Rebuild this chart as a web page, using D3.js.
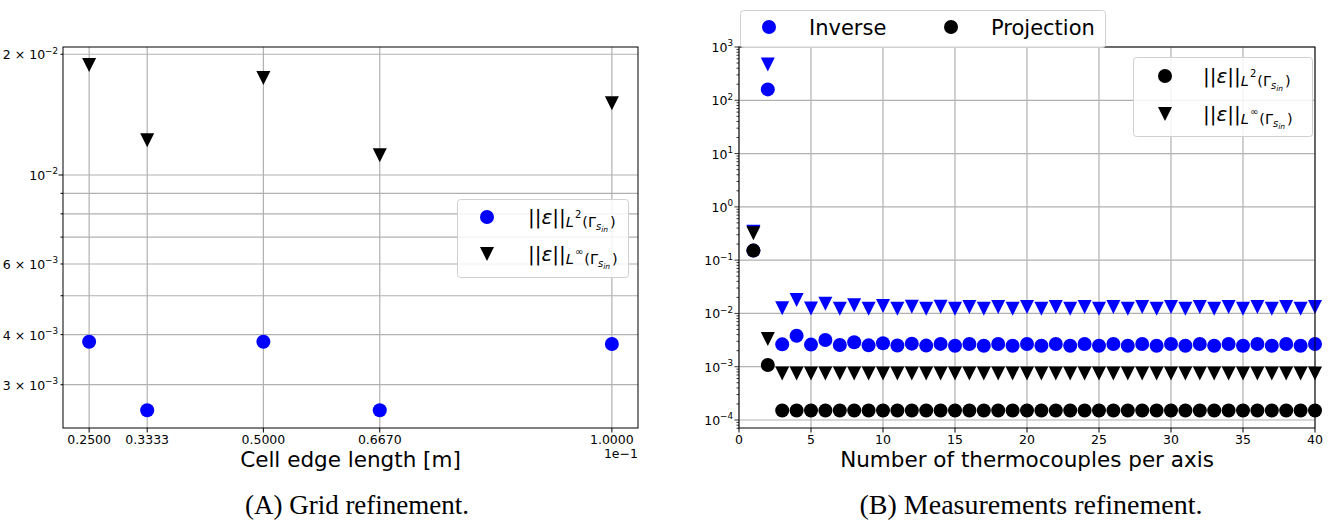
<!DOCTYPE html>
<html><head><meta charset="utf-8">
<script src="https://cdn.jsdelivr.net/npm/d3@7"></script>
<style>body{margin:0;background:#fff}svg{display:block;font-family:"DejaVu Sans",sans-serif}</style>
</head><body><svg id="c" width="1333" height="521"></svg>
<script>
// ---------- Panel A data ----------
const gridX = [0.25, 0.3333, 0.5, 0.667, 1.0];
const gridXLabels = ["0.2500", "0.3333", "0.5000", "0.6670", "1.0000"];
const gridL2 = [3.84e-3, 2.59e-3, 3.84e-3, 2.59e-3, 3.79e-3];
const gridLinf = [1.88e-2, 1.22e-2, 1.745e-2, 1.12e-2, 1.51e-2];
const gridYTicks = [2e-2, 1e-2, 9e-3, 8e-3, 7e-3, 6e-3, 5e-3, 4e-3, 3e-3];
const gridYLabels = [["2 × 10", "−2"], ["10", "−2"], null, null, null, ["6 × 10", "−3"], null, ["4 × 10", "−3"], ["3 × 10", "−3"]];

// ---------- Panel B data ----------
const nTc = [1,2,3,4,5,6,7,8,9,10,11,12,13,14,15,16,17,18,19,20,21,22,23,24,25,26,27,28,29,30,31,32,33,34,35,36,37,38,39,40];
const invL2 = [0.151, 160, 2.63e-3, 3.81e-3, 2.60e-3, 3.17e-3, 2.55e-3, 2.87e-3, 2.52e-3, 2.76e-3,
  2.50e-3, 2.71e-3, 2.49e-3, 2.68e-3, 2.48e-3, 2.67e-3, 2.48e-3, 2.67e-3, 2.48e-3, 2.67e-3,
  2.48e-3, 2.67e-3, 2.48e-3, 2.67e-3, 2.48e-3, 2.67e-3, 2.48e-3, 2.67e-3, 2.48e-3, 2.67e-3,
  2.48e-3, 2.67e-3, 2.48e-3, 2.67e-3, 2.48e-3, 2.67e-3, 2.48e-3, 2.67e-3, 2.48e-3, 2.67e-3];
const invLinf = [0.34, 468, 1.25e-2, 1.78e-2, 1.24e-2, 1.52e-2, 1.23e-2, 1.43e-2, 1.23e-2, 1.38e-2,
  1.22e-2, 1.34e-2, 1.22e-2, 1.33e-2, 1.22e-2, 1.32e-2, 1.22e-2, 1.32e-2, 1.22e-2, 1.32e-2,
  1.22e-2, 1.32e-2, 1.22e-2, 1.32e-2, 1.22e-2, 1.32e-2, 1.22e-2, 1.32e-2, 1.22e-2, 1.32e-2,
  1.22e-2, 1.32e-2, 1.22e-2, 1.32e-2, 1.22e-2, 1.32e-2, 1.22e-2, 1.32e-2, 1.22e-2, 1.32e-2];
const projL2 = [0.151, 1.08e-3, 1.51e-4, 1.51e-4, 1.51e-4, 1.51e-4, 1.51e-4, 1.51e-4, 1.51e-4, 1.51e-4,
  1.51e-4, 1.51e-4, 1.51e-4, 1.51e-4, 1.51e-4, 1.51e-4, 1.51e-4, 1.51e-4, 1.51e-4, 1.51e-4,
  1.51e-4, 1.51e-4, 1.51e-4, 1.51e-4, 1.51e-4, 1.51e-4, 1.51e-4, 1.51e-4, 1.51e-4, 1.51e-4,
  1.51e-4, 1.51e-4, 1.51e-4, 1.51e-4, 1.51e-4, 1.51e-4, 1.51e-4, 1.51e-4, 1.51e-4, 1.51e-4];
const projLinf = [0.32, 3.3e-3, 7.5e-4, 7.5e-4, 7.5e-4, 7.5e-4, 7.5e-4, 7.5e-4, 7.5e-4, 7.5e-4,
  7.5e-4, 7.5e-4, 7.5e-4, 7.5e-4, 7.5e-4, 7.5e-4, 7.5e-4, 7.5e-4, 7.5e-4, 7.5e-4,
  7.5e-4, 7.5e-4, 7.5e-4, 7.5e-4, 7.5e-4, 7.5e-4, 7.5e-4, 7.5e-4, 7.5e-4, 7.5e-4,
  7.5e-4, 7.5e-4, 7.5e-4, 7.5e-4, 7.5e-4, 7.5e-4, 7.5e-4, 7.5e-4, 7.5e-4, 7.5e-4];
const tcXTicks = [0, 5, 10, 15, 20, 25, 30, 35, 40];
const tcYExps = [3, 2, 1, 0, -1, -2, -3, -4];

const BLUE = "#0000ff", BLACK = "#000000", GRID = "#b0b0b0";
const TICKFS = 12.5, LABELFS = 21.5;
const svg = d3.select("#c");
svg.append("rect").attr("width", 1333).attr("height", 521).attr("fill", "#fff");

const tri = "M0,7L-7,-7L7,-7Z";
function circle(g, x, y, col) { g.append("circle").attr("cx", x).attr("cy", y).attr("r", 7).attr("fill", col); }
function triangle(g, x, y, col) { g.append("path").attr("d", tri).attr("transform", `translate(${x},${y})`).attr("fill", col); }

function powLabel(g, x, y, base, exp, size) {
  const t = g.append("text").attr("x", x).attr("y", y).attr("text-anchor", "end")
    .attr("font-size", size).attr("fill", "#000");
  t.append("tspan").text(base);
  t.append("tspan").attr("font-size", size * 0.7).attr("dy", -size * 0.45).text(exp);
}

function normLabel(g, x, y, sup) {
  const t = g.append("text").attr("x", x).attr("y", y).attr("fill", "#000");
  t.append("tspan").attr("font-size", 20).text("||");
  t.append("tspan").attr("font-size", 20).attr("font-style", "italic").text("ε");
  t.append("tspan").attr("font-size", 20).text("||");
  t.append("tspan").attr("font-size", 14.5).attr("font-style", "italic").attr("dy", 3.7).text("L");
  t.append("tspan").attr("font-size", 10).attr("dy", -9.3).attr("dx", 1).text(sup);
  t.append("tspan").attr("font-size", 14.5).attr("dy", 9.3).attr("dx", 1).text("(Γ");
  t.append("tspan").attr("font-size", 10).attr("font-style", "italic").attr("dy", 2.5).text("s");
  t.append("tspan").attr("font-size", 7.5).attr("font-style", "italic").attr("dy", 2).text("in");
  t.append("tspan").attr("font-size", 14.5).attr("dy", -4.5).attr("dx", 2).text(")");
}

function legendBox(g, x0, y0, x1, y1) {
  g.append("rect").attr("x", x0 + 0.5).attr("y", y0 + 0.5).attr("width", x1 - x0).attr("height", y1 - y0)
    .attr("rx", 3).attr("fill", "#fff").attr("fill-opacity", 0.85).attr("stroke", "#d0d0d0").attr("stroke-width", 1);
}

// ================= Panel A =================
{
  const L = 63, R = 638, T = 47, B = 428;
  const x = d3.scaleLinear().domain([0.2125, 1.0375]).range([L, R]);
  const y = d3.scaleLog().domain([2.34e-3, 2.085e-2]).range([B, T]);
  const g = svg.append("g");
  g.selectAll(".gx").data(gridX).join("line").attr("x1", d => x(d)).attr("x2", d => x(d))
    .attr("y1", T).attr("y2", B).attr("stroke", GRID).attr("stroke-width", 1.2);
  g.selectAll(".gy").data(gridYTicks).join("line").attr("x1", L).attr("x2", R)
    .attr("y1", d => y(d)).attr("y2", d => y(d)).attr("stroke", GRID).attr("stroke-width", 1.2);
  gridLinf.forEach((v, i) => triangle(g, x(gridX[i]), y(v), BLACK));
  gridL2.forEach((v, i) => circle(g, x(gridX[i]), y(v), BLUE));
  g.append("rect").attr("x", L).attr("y", T).attr("width", R - L).attr("height", B - T)
    .attr("fill", "none").attr("stroke", "#000").attr("stroke-width", 1);
  gridX.forEach((d, i) => {
    g.append("line").attr("x1", x(d)).attr("x2", x(d)).attr("y1", B).attr("y2", B + 4.5).attr("stroke", "#000");
    g.append("text").attr("x", x(d)).attr("y", B + 16).attr("text-anchor", "middle").attr("font-size", TICKFS).text(gridXLabels[i]);
  });
  g.append("text").attr("x", R).attr("y", B + 30).attr("text-anchor", "end").attr("font-size", TICKFS).text("1e−1");
  gridYTicks.forEach((d, i) => {
    const major = d === 1e-2;
    g.append("line").attr("x1", L).attr("x2", L - (major ? 4.5 : 2.5)).attr("y1", y(d)).attr("y2", y(d)).attr("stroke", "#000");
    if (gridYLabels[i]) powLabel(g, 58, y(d) + 5, gridYLabels[i][0], gridYLabels[i][1], TICKFS);
  });
  g.append("text").attr("x", (L + R) / 2).attr("y", B + 39).attr("text-anchor", "middle").attr("font-size", LABELFS)
    .text("Cell edge length [m]");
  legendBox(g, 457, 199, 628, 277);
  circle(g, 487, 217, BLUE);
  triangle(g, 487, 254, BLACK);
  normLabel(g, 528, 223.5, "2");
  normLabel(g, 528, 260.5, "∞");
  svg.append("text").attr("x", 357).attr("y", 514).attr("text-anchor", "middle")
    .attr("font-family", "Liberation Serif, serif").attr("font-size", 27).text("(A) Grid refinement.");
}

// ================= Panel B =================
{
  const L = 739, R = 1315, T = 47, B = 428;
  const x = d3.scaleLinear().domain([0, 40]).range([L, R]);
  const y = d3.scaleLog().domain([Math.pow(10, -4.15), 1000]).range([B, T]);
  const g = svg.append("g");
  g.selectAll(".gx").data(tcXTicks).join("line").attr("x1", d => x(d)).attr("x2", d => x(d))
    .attr("y1", T).attr("y2", B).attr("stroke", GRID).attr("stroke-width", 1.2);
  g.selectAll(".gy").data(tcYExps).join("line").attr("x1", L).attr("x2", R)
    .attr("y1", d => y(Math.pow(10, d))).attr("y2", d => y(Math.pow(10, d))).attr("stroke", GRID).attr("stroke-width", 1.2);
  nTc.forEach((n, i) => triangle(g, x(n), y(invLinf[i]), BLUE));
  nTc.forEach((n, i) => circle(g, x(n), y(invL2[i]), BLUE));
  nTc.forEach((n, i) => triangle(g, x(n), y(projLinf[i]), BLACK));
  nTc.forEach((n, i) => circle(g, x(n), y(projL2[i]), BLACK));
  g.append("rect").attr("x", L).attr("y", T).attr("width", R - L).attr("height", B - T)
    .attr("fill", "none").attr("stroke", "#000").attr("stroke-width", 1);
  tcXTicks.forEach(d => {
    g.append("line").attr("x1", x(d)).attr("x2", x(d)).attr("y1", B).attr("y2", B + 4.5).attr("stroke", "#000");
    g.append("text").attr("x", x(d)).attr("y", B + 16).attr("text-anchor", "middle").attr("font-size", TICKFS).text(d);
  });
  for (let e = -5; e <= 3; e++) {
    for (let k = 1; k <= 9; k++) {
      const v = k * Math.pow(10, e);
      const yy = y(v);
      if (yy < T - 0.5 || yy > B + 0.5) continue;
      g.append("line").attr("x1", L).attr("x2", L - (k === 1 ? 4.5 : 2.5)).attr("y1", yy).attr("y2", yy).attr("stroke", "#000").attr("stroke-width", 0.8);
    }
  }
  tcYExps.forEach(e => powLabel(g, 733, y(Math.pow(10, e)) + 5, "10", e < 0 ? "−" + (-e) : String(e), TICKFS));
  g.append("text").attr("x", (L + R) / 2).attr("y", B + 39).attr("text-anchor", "middle").attr("font-size", LABELFS)
    .text("Number of thermocouples per axis");
  legendBox(g, 740, 10, 1105, 47);
  circle(g, 769, 27, BLUE);
  g.append("text").attr("x", 809).attr("y", 35).attr("font-size", 21).text("Inverse");
  circle(g, 951, 27, BLACK);
  g.append("text").attr("x", 991).attr("y", 35).attr("font-size", 21).text("Projection");
  legendBox(g, 1133, 57, 1312, 136);
  circle(g, 1165, 76, BLACK);
  triangle(g, 1165, 114, BLACK);
  normLabel(g, 1203, 82.5, "2");
  normLabel(g, 1203, 120.5, "∞");
  svg.append("text").attr("x", 1031).attr("y", 514).attr("text-anchor", "middle")
    .attr("font-family", "Liberation Serif, serif").attr("font-size", 28).text("(B) Measurements refinement.");
}
</script></body></html>
